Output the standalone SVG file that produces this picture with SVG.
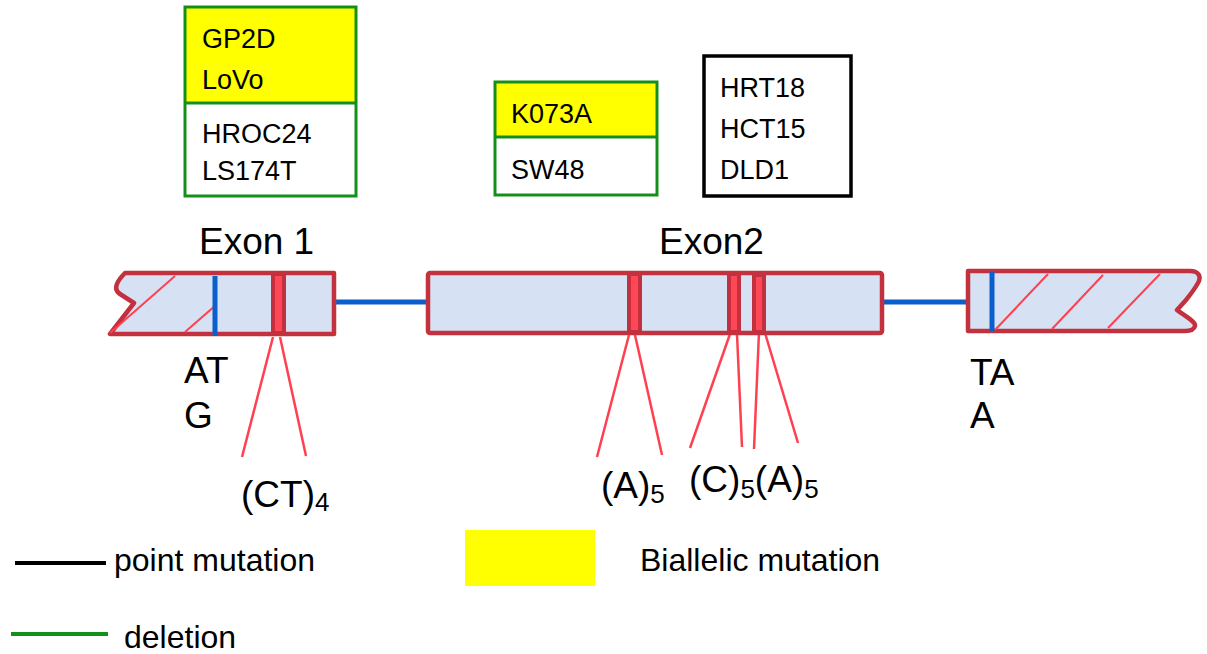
<svg xmlns="http://www.w3.org/2000/svg" width="1207" height="654" viewBox="0 0 1207 654">
<style>
text{font-family:"Liberation Sans",Arial,sans-serif;fill:#000}
.bx{font-size:27px}
.lbl{font-size:37px}
.sub{font-size:26px}
.leg{font-size:32px}
.exon{fill:#d6e2f3;stroke:#c3313f;stroke-width:4.5;stroke-linejoin:round}
.strip{fill:#ff4757;stroke:#c3313f;stroke-width:4}
.hatch{stroke:#ff4050;stroke-width:2;fill:none}
.blue{stroke:#0a5fcc;stroke-width:5;fill:none}
.rl{stroke:#ff4050;stroke-width:2.5;fill:none}
.gb{stroke:#14901a;stroke-width:3;fill:none}
</style>
<rect width="1207" height="654" fill="#fff"/>
<g id="box-exon1-mutants">
<rect x="185" y="7" width="171" height="96" fill="#ffff00"/>
<rect x="185" y="7" width="171" height="189" class="gb"/>
<line x1="185" y1="103" x2="356" y2="103" class="gb"/>
<text class="bx" x="202" y="48">GP2D</text>
<text class="bx" x="202" y="89">LoVo</text>
<text class="bx" x="202" y="143">HROC24</text>
<text class="bx" x="202" y="180">LS174T</text>
</g>
<g id="box-exon2-deletion">
<rect x="495" y="82" width="162" height="55" fill="#ffff00"/>
<rect x="495" y="82" width="162" height="113" class="gb"/>
<line x1="495" y1="137" x2="657" y2="137" class="gb"/>
<text class="bx" x="511" y="123">K073A</text>
<text class="bx" x="511" y="179">SW48</text>
</g>
<g id="box-exon2-point">
<rect x="704" y="56" width="147" height="140" fill="none" stroke="#000" stroke-width="3.5"/>
<text class="bx" x="720" y="97">HRT18</text>
<text class="bx" x="720" y="138">HCT15</text>
<text class="bx" x="720" y="179">DLD1</text>
</g>
<g id="connectors">
<line x1="335" y1="302" x2="428" y2="302" class="blue"/>
<line x1="882" y1="302" x2="968" y2="302" class="blue"/>
<line x1="273" y1="337" x2="242" y2="457" class="rl"/>
<line x1="280" y1="337" x2="306" y2="456" class="rl"/>
<line x1="629" y1="335" x2="597" y2="457" class="rl"/>
<line x1="635" y1="335" x2="662" y2="455" class="rl"/>
<line x1="730" y1="334" x2="690" y2="448" class="rl"/>
<line x1="737" y1="334" x2="742" y2="447" class="rl"/>
<line x1="759" y1="332" x2="754" y2="449" class="rl"/>
<line x1="765" y1="333" x2="798" y2="443" class="rl"/>
</g>
<g id="exon1">
<path class="exon" d="M125,273 C118,280 112,289 120,294 L134,303 L110,334 L334,334 L334,273 Z"/>
<line x1="110" y1="333" x2="175" y2="276" class="hatch"/>
<line x1="185" y1="332" x2="216" y2="305" class="hatch"/>
<line x1="215" y1="276" x2="215" y2="336" class="blue" stroke-width="6"/>
<rect x="273" y="274" width="11" height="59" class="strip"/>
<text class="lbl" x="199" y="254">Exon 1</text>
<text class="lbl" x="184" y="383">AT</text>
<text class="lbl" x="184" y="428">G</text>
<text class="lbl" x="241" y="507">(CT)<tspan class="sub" dy="4">4</tspan></text>
</g>
<g id="exon2">
<rect class="exon" x="428" y="273" width="454" height="60" rx="2"/>
<rect x="629" y="274" width="11" height="58" class="strip"/>
<rect x="729" y="274" width="10" height="58" class="strip"/>
<rect x="754" y="275" width="10" height="57" class="strip"/>
<text class="lbl" x="659" y="254">Exon2</text>
<text class="lbl" x="601" y="498">(A)<tspan class="sub" dy="5">5</tspan></text>
<text class="lbl" x="689" y="492">(C)<tspan class="sub" dy="6">5</tspan><tspan dy="-6">(A)</tspan><tspan class="sub" dy="6">5</tspan></text>
</g>
<g id="exon3">
<path class="exon" d="M968,271 L1190,271 C1198,271 1202,276 1198,283 C1194,290 1190,295 1186,300 L1177,310 C1185,316 1196,322 1195,326 C1194,330 1190,331 1185,331 L968,331 Z"/>
<line x1="995" y1="330" x2="1048" y2="274" class="hatch"/>
<line x1="1052" y1="329" x2="1103" y2="275" class="hatch"/>
<line x1="1108" y1="328" x2="1160" y2="274" class="hatch"/>
<line x1="992" y1="272" x2="992" y2="331" class="blue" stroke-width="6"/>
<text class="lbl" x="970" y="385">TA</text>
<text class="lbl" x="970" y="428">A</text>
</g>
<g id="legend">
<line x1="15" y1="563" x2="106" y2="563" stroke="#000" stroke-width="4"/>
<text class="leg" x="114" y="571">point mutation</text>
<line x1="11" y1="634" x2="108" y2="634" stroke="#14901a" stroke-width="4"/>
<text class="leg" x="124" y="648">deletion</text>
<rect x="465" y="530" width="130" height="56" fill="#ffff00"/>
<text class="leg" x="640" y="571">Biallelic mutation</text>
</g>
</svg>
